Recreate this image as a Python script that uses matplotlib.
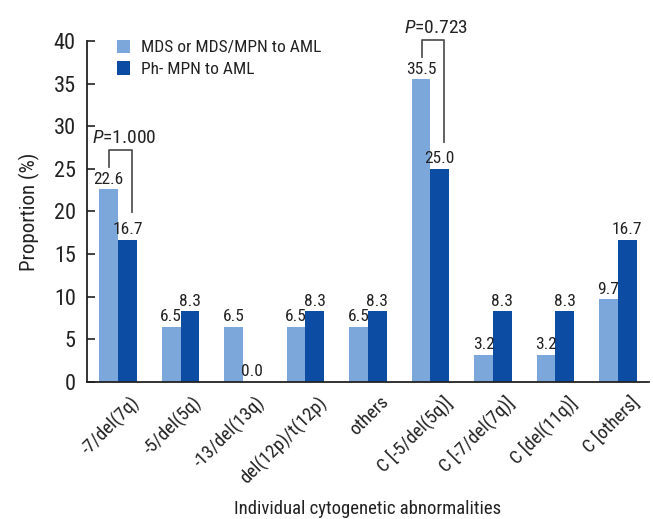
import matplotlib
matplotlib.use("Agg")
import numpy as np
import matplotlib.pyplot as plt
import matplotlib.transforms as mtransforms
from matplotlib import font_manager

# ── data ─────────────────────────────────────────────────────────────────────
categories = ["-7/del(7q)", "-5/del(5q)", "-13/del(13q)", "del(12p)/t(12p)",
              "others", "C [-5/del(5q)]", "C [-7/del(7q)]", "C [del(11q)]",
              "C [others]"]
mds_aml = [22.6, 6.5, 6.5, 6.5, 6.5, 35.5, 3.2, 3.2, 9.7]
mpn_aml = [16.7, 8.3, 0.0, 8.3, 8.3, 25.0, 8.3, 8.3, 16.7]
series_names = ["MDS or MDS/MPN to AML", "Ph- MPN to AML"]
p_labels = {0: "1.000", 5: "0.723"}

# ── font: prefer a narrow face if present ───────────────────────────────────
names = {f.name for f in font_manager.fontManager.ttflist}
family = "DejaVu Sans"
for cand in ["Roboto Condensed", "Liberation Sans Narrow", "Liberation Sans"]:
    if cand in names:
        family = cand
        break
plt.rcParams["font.family"] = [family, "DejaVu Sans"]
plt.rcParams["mathtext.fontset"] = "custom"
plt.rcParams["mathtext.it"] = family + ":italic"

light = "#7ba7db"
dark = "#0c4ca2"
txt = "#222222"

fig = plt.figure(figsize=(6.53, 5.19), dpi=100)
ax = fig.add_axes([0.133, 0.264, 0.861, 0.657])

x = np.arange(len(categories))
w = 0.30
ax.bar(x - w / 2, mds_aml, w, color=light, label=series_names[0])
ax.bar(x + w / 2, mpn_aml, w, color=dark, label=series_names[1])

for xi, a, b in zip(x, mds_aml, mpn_aml):
    ax.text(xi - w / 2, a + 0.3, f"{a:.1f}", ha="center", va="bottom",
            fontsize=12.5, color=txt)
    ax.text(xi + w / 2, b + 0.3, f"{b:.1f}", ha="center", va="bottom",
            fontsize=12.5, color=txt)

# p-value brackets
for i, p in p_labels.items():
    top = max(mds_aml[i], mpn_aml[i])
    yb = top + 4.6
    ax.plot([i - 0.14, i - 0.14, i + 0.22, i + 0.22],
            [mds_aml[i] + 2.6, yb, yb, mpn_aml[i] + 3.2],
            color="#555555", lw=1.3, clip_on=False)
    ax.text(i - 0.42, yb + 0.4, f"$P$={p}", ha="left", va="bottom",
            fontsize=14, color=txt)

ax.set_xlim(-0.5, 8.5)
ax.set_ylim(0, 40)
ax.set_yticks(range(0, 41, 5))
ax.tick_params(axis="y", direction="in", length=6, width=1.2, labelsize=16,
               pad=8, colors=txt)
ax.tick_params(axis="x", length=0, labelsize=13.5, pad=8, colors=txt)
ax.set_xticks(x)
ax.set_xticklabels(categories, rotation=45, ha="right", rotation_mode="anchor")
shift = mtransforms.ScaledTranslation(12 / 100, 0, fig.dpi_scale_trans)
for lab in ax.get_xticklabels():
    lab.set_transform(lab.get_transform() + shift)
for s in ["top", "right"]:
    ax.spines[s].set_visible(False)
for s in ["left", "bottom"]:
    ax.spines[s].set_linewidth(1.3)
    ax.spines[s].set_color(txt)

ax.set_ylabel("Proportion (%)", fontsize=15, labelpad=10, color=txt)
fig.text(368 / 653, 10 / 519, "Individual cytogenetic abnormalities",
         ha="center", va="center", fontsize=13.5, color=txt)

ax.legend(loc="upper left", bbox_to_anchor=(0.025, 1.05), frameon=False,
          fontsize=12.5, handlelength=0.8, handleheight=0.8, handletextpad=0.6,
          labelspacing=0.35, labelcolor=txt)

fig.savefig("out.png", dpi=100)
